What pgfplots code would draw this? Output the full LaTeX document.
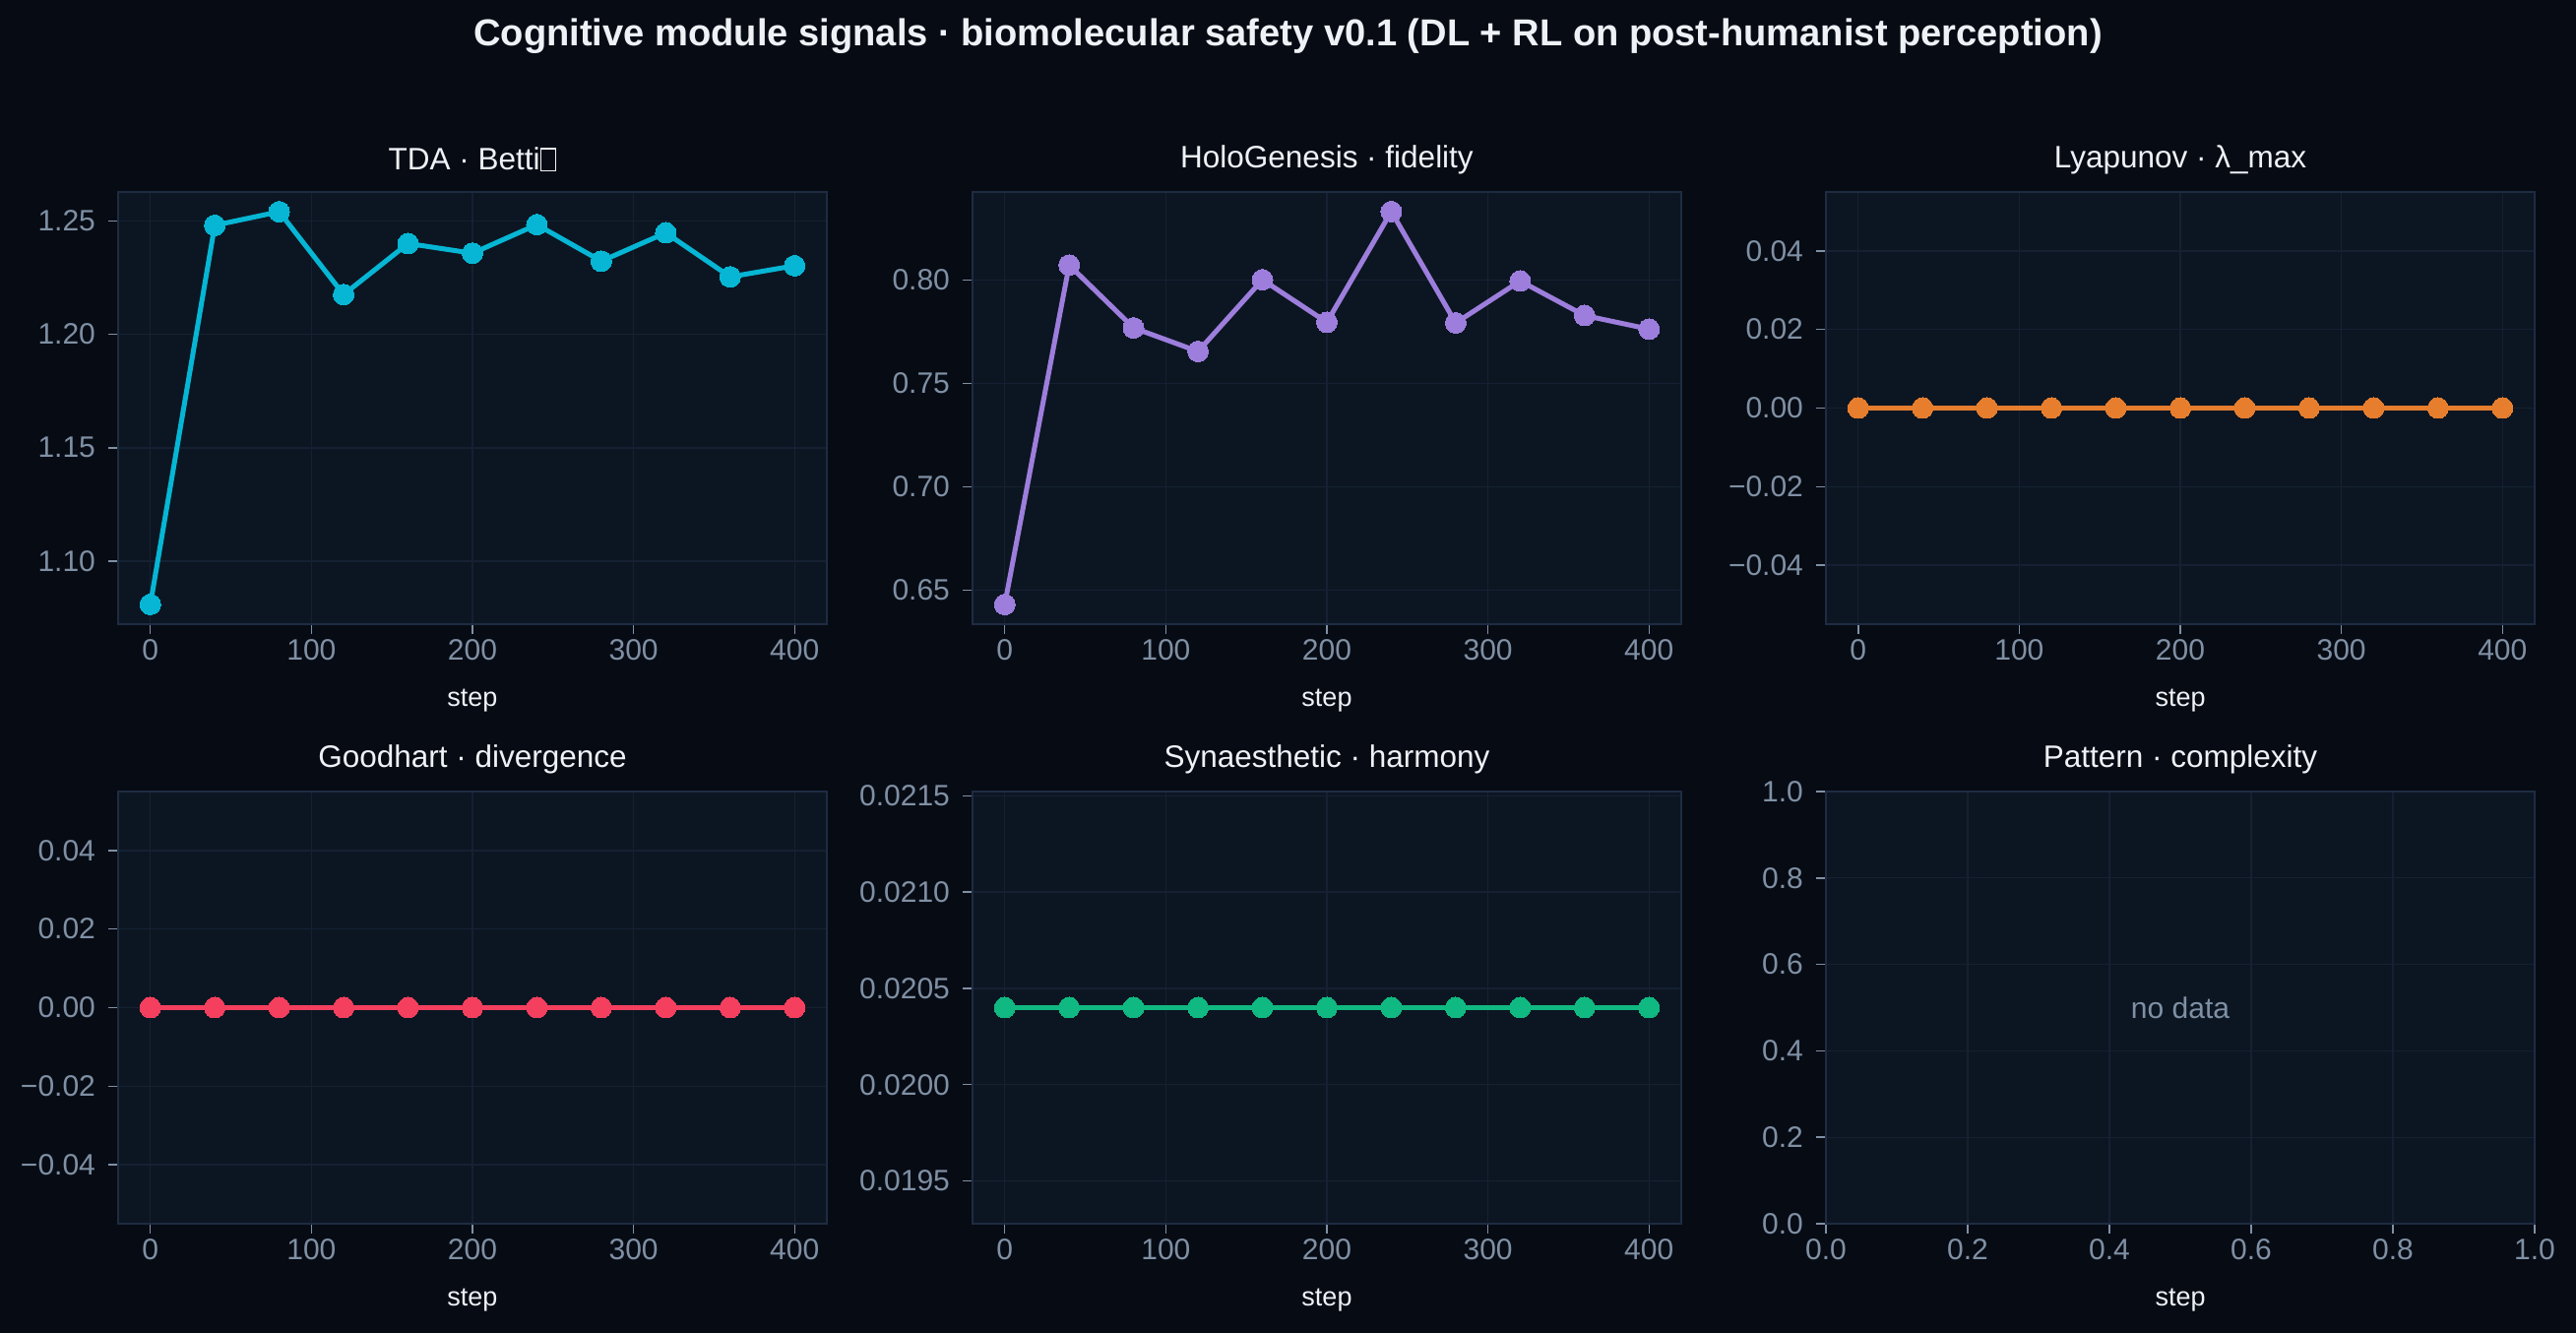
\documentclass[border=0pt]{standalone}
\usepackage{pgfplots}
\pgfplotsset{compat=1.18}
\usepackage{fontspec}
\setmainfont{Liberation Sans}

\definecolor{figbg}{HTML}{070B14}
\definecolor{axbg}{HTML}{0C1622}
\definecolor{gridc}{HTML}{152132}
\definecolor{spine}{HTML}{1E2C42}
\definecolor{tickc}{HTML}{7F90A4}
\definecolor{titlec}{HTML}{EEF2F7}
\definecolor{ccyan}{HTML}{06B6D4}
\definecolor{cpurple}{HTML}{9D7EDC}
\definecolor{corange}{HTML}{E67E2E}
\definecolor{cred}{HTML}{F43F5E}
\definecolor{cgreen}{HTML}{10B981}

% empty glyph box used where the subscript is missing from the font
\newcommand{\tofu}{{\setlength\fboxrule{0.5pt}\setlength\fboxsep{0pt}\fcolorbox{titlec}{figbg}{\rule{0pt}{7pt}\hspace{4.6pt}}}}

\pgfplotsset{
  panel/.style={
    anchor=south west,
    scale only axis, width=240pt, height=146.33pt,
    axis background/.style={fill=axbg},
    axis line style={spine, line width=0.6pt},
    grid=major, major grid style={gridc, line width=0.45pt},
    tick align=outside, major tick length=3.2pt,
    tick style={tickc, line width=0.5pt},
    xtick pos=left, ytick pos=left,
    scaled ticks=false,
    ticklabel style={font=\fontsize{10}{12}\selectfont, text=tickc},
    xticklabel style={inner sep=1.8pt},
    yticklabel style={inner sep=4.3pt},
    /pgf/number format/assume math mode=true,
    title style={font=\fontsize{10.5}{12}\selectfont, text=titlec,
      at={(axis description cs:0.5,1)}, anchor=center, yshift=5pt},
    xlabel=step,
    xlabel style={font=\fontsize{9}{11}\selectfont, text=titlec,
      at={(axis description cs:0.5,0)}, anchor=center, yshift=-25.7pt},
    xmin=-20, xmax=420, xtick={0,100,200,300,400},
  },
  series/.style={color=#1, line width=1.67pt, mark=*, mark size=3.5pt,
    mark options={solid, fill=#1, draw=#1, line width=0pt}},
}

\begin{document}
\begin{tikzpicture}
  \fill[figbg] (0pt,0pt) rectangle (872.33pt,451.33pt);
  \path[use as bounding box] (0pt,0pt) rectangle (872.33pt,451.33pt);

  \node[font=\bfseries\fontsize{12.7}{14}\selectfont, text=titlec] at (436.17pt,439pt) {Cognitive module signals · biomolecular safety v0.1 (DL + RL on post-humanist perception)};

  % TDA Betti number
  \begin{axis}[panel, at={(40pt,240pt)}, title={TDA · Betti\tofu},
      ymin=1.0723, ymax=1.2627, ytick={1.10,1.15,1.20,1.25},
      yticklabels={1.10,1.15,1.20,1.25}]
    \addplot[series=ccyan] coordinates {
      (0,1.081) (40,1.248) (80,1.254) (120,1.2175) (160,1.240) (200,1.2357)
      (240,1.2483) (280,1.2322) (320,1.2447) (360,1.2253) (400,1.2302)};
  \end{axis}

  % HoloGenesis fidelity
  \begin{axis}[panel, at={(329.33pt,240pt)}, title={HoloGenesis · fidelity},
      ymin=0.6335, ymax=0.8427, ytick={0.65,0.70,0.75,0.80},
      yticklabels={0.65,0.70,0.75,0.80}]
    \addplot[series=cpurple] coordinates {
      (0,0.643) (40,0.8073) (80,0.7769) (120,0.7655) (160,0.8002) (200,0.7796)
      (240,0.8332) (280,0.7793) (320,0.7996) (360,0.7829) (400,0.7763)};
  \end{axis}

  % Lyapunov exponent
  \begin{axis}[panel, at={(618.33pt,240pt)}, title={Lyapunov · λ\_max},
      ymin=-0.055, ymax=0.055, ytick={-0.04,-0.02,0,0.02,0.04},
      yticklabels={−0.04,−0.02,0.00,0.02,0.04}]
    \addplot[series=corange] coordinates {
      (0,0) (40,0) (80,0) (120,0) (160,0) (200,0)
      (240,0) (280,0) (320,0) (360,0) (400,0)};
  \end{axis}

  % Goodhart divergence
  \begin{axis}[panel, at={(40pt,37pt)}, title={Goodhart · divergence},
      ymin=-0.055, ymax=0.055, ytick={-0.04,-0.02,0,0.02,0.04},
      yticklabels={−0.04,−0.02,0.00,0.02,0.04}]
    \addplot[series=cred] coordinates {
      (0,0) (40,0) (80,0) (120,0) (160,0) (200,0)
      (240,0) (280,0) (320,0) (360,0) (400,0)};
  \end{axis}

  % Synaesthetic harmony
  \begin{axis}[panel, at={(329.33pt,37pt)}, title={Synaesthetic · harmony},
      ymin=0.019278, ymax=0.021522,
      ytick={0.0195,0.0200,0.0205,0.0210,0.0215},
      yticklabels={0.0195,0.0200,0.0205,0.0210,0.0215}]
    \addplot[series=cgreen] coordinates {
      (0,0.0204) (40,0.0204) (80,0.0204) (120,0.0204) (160,0.0204) (200,0.0204)
      (240,0.0204) (280,0.0204) (320,0.0204) (360,0.0204) (400,0.0204)};
  \end{axis}

  % Pattern complexity (empty)
  \begin{axis}[panel, at={(618.33pt,37pt)}, title={Pattern · complexity},
      xmin=0, xmax=1, ymin=0, ymax=1,
      xtick={0,0.2,0.4,0.6,0.8,1}, xticklabels={0.0,0.2,0.4,0.6,0.8,1.0},
      ytick={0,0.2,0.4,0.6,0.8,1}, yticklabels={0.0,0.2,0.4,0.6,0.8,1.0}]
    \node[font=\fontsize{10}{12}\selectfont, text=tickc] at (axis cs:0.5,0.5) {no data};
  \end{axis}
\end{tikzpicture}
\end{document}
